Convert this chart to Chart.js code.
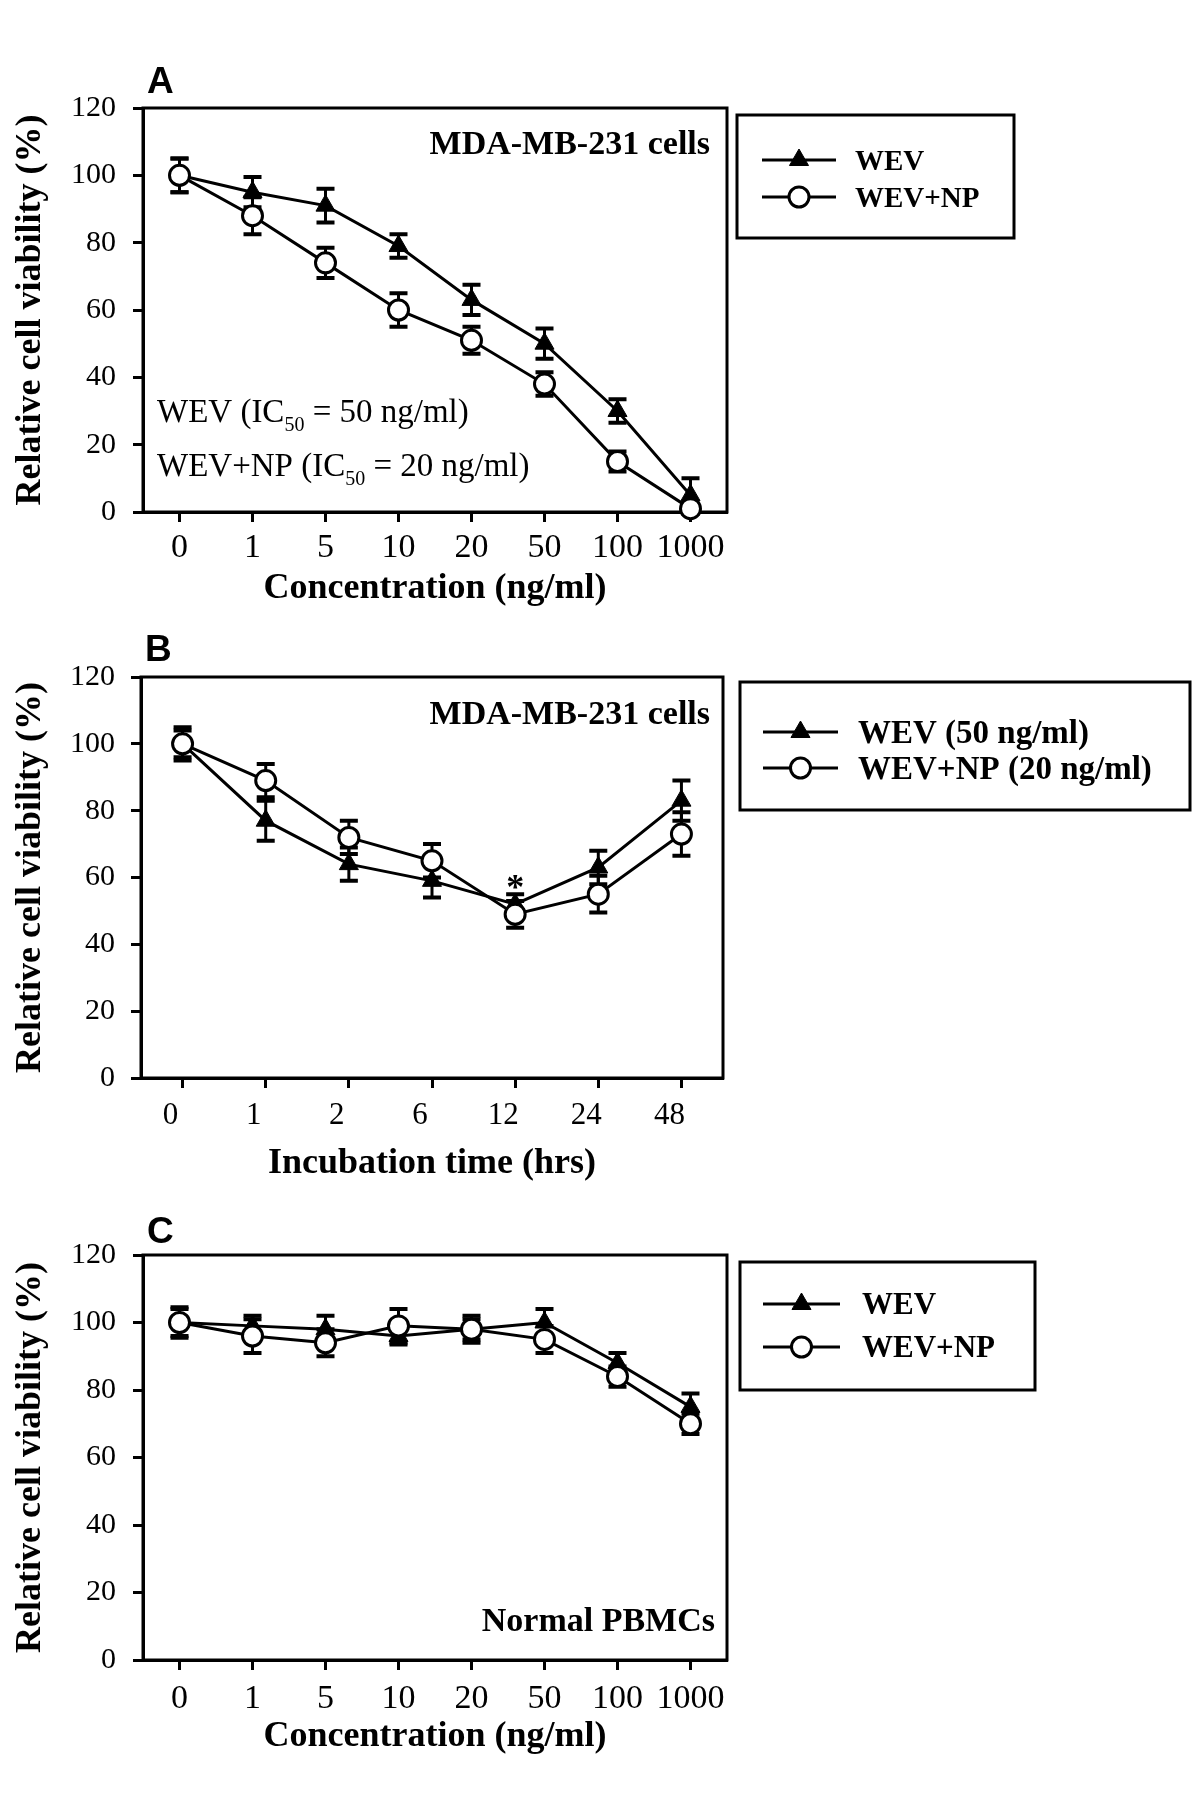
<!DOCTYPE html>
<html>
<head>
<meta charset="utf-8">
<script src="https://cdn.jsdelivr.net/npm/chart.js@4.4.1/dist/chart.umd.min.js"></script>
<style>
  body { margin: 0; background: #fff; }
  #wrap { position: relative; width: 1200px; height: 1812px; }
  canvas { position: absolute; left: 0; }
</style>
</head>
<body>
<div id="wrap">
  <canvas id="chartA" width="1200" height="620" style="top:0"></canvas>
  <canvas id="chartB" width="1200" height="580" style="top:620px"></canvas>
  <canvas id="chartC" width="1200" height="612" style="top:1200px"></canvas>
</div>
<script>
// x categories
const concLabels = ['0', '1', '5', '10', '20', '50', '100', '1000'];
const timeLabels = ['0', '1', '2', '6', '12', '24', '48'];

// A: MDA-MB-231, concentration
const wevA = [100, 95, 91, 79, 63, 50, 30, 5];
const wevAErr = [5, 4.5, 5, 3.5, 4.5, 4.5, 3.5, 5];
const npA = [100, 88, 74, 60, 51, 38, 15, 1];
const npAErr = [5, 5.5, 4.5, 5, 4, 3.5, 3, 1.5];

// B: MDA-MB-231, incubation time
const wevB = [100, 77, 64, 59, 52, 63, 83];
const wevBErr = [5, 6, 5, 5, 3, 5, 6];
const npB = [100, 89, 72, 65, 49, 55, 73];
const npBErr = [4, 5, 5, 5, 4, 5.5, 6.5];
const sigB = ['', '', '', '', '*', '', ''];

// C: normal PBMCs, concentration
const wevC = [100, 99, 98, 96, 98, 100, 88, 75];
const wevCErr = [4, 3, 4, 2.5, 3, 4, 3, 4];
const npC = [100, 96, 94, 99, 98, 95, 84, 70];
const npCErr = [4.5, 5, 4, 5, 4, 4, 3, 3];

Chart.defaults.font.family = '"Liberation Serif", "Times New Roman", serif';
Chart.defaults.color = '#000';
Chart.defaults.plugins.legend.display = false;
Chart.defaults.plugins.tooltip.enabled = false;

const SERIF = '"Liberation Serif", "Times New Roman", serif';

function wevSet(label, data, errors) {
  return {
    label, data, errors, order: 1,
    borderColor: '#000', backgroundColor: '#000', borderWidth: 3, tension: 0,
    pointStyle: 'triangle', pointRadius: 11, pointBorderWidth: 1,
    pointBackgroundColor: '#000', pointBorderColor: '#000', clip: false
  };
}

function npSet(label, data, errors) {
  return {
    label, data, errors, order: 0,
    borderColor: '#000', backgroundColor: '#fff', borderWidth: 3, tension: 0,
    pointStyle: 'circle', pointRadius: 10, pointBorderWidth: 3,
    pointBackgroundColor: '#fff', pointBorderColor: '#000', clip: false
  };
}

// frame + error bars under the lines
const frameAndErrors = {
  id: 'frameAndErrors',
  beforeDatasetsDraw(chart) {
    const { ctx, chartArea: a, scales: { x, y } } = chart;
    ctx.save();
    ctx.strokeStyle = '#000';
    ctx.lineWidth = 3;
    ctx.strokeRect(a.left, a.top, a.right - a.left, a.bottom - a.top);
    chart.data.datasets.forEach(ds => {
      ds.data.forEach((v, i) => {
        const e = ds.errors[i];
        const px = x.getPixelForValue(i);
        const top = y.getPixelForValue(v + e);
        const bot = y.getPixelForValue(v - e);
        ctx.lineWidth = 3;
        ctx.beginPath();
        ctx.moveTo(px, top);
        ctx.lineTo(px, bot);
        ctx.stroke();
        ctx.lineWidth = 4;
        ctx.beginPath();
        ctx.moveTo(px - 9, top); ctx.lineTo(px + 9, top);
        ctx.moveTo(px - 9, bot); ctx.lineTo(px + 9, bot);
        ctx.stroke();
      });
    });
    ctx.restore();
  }
};

function drawLegend(chart, lg) {
  const ctx = chart.ctx;
  ctx.save();
  ctx.strokeStyle = '#000';
  ctx.lineWidth = 3;
  ctx.strokeRect(lg.x, lg.y, lg.w, lg.h);
  ctx.font = `bold ${lg.font}px ${SERIF}`;
  ctx.textAlign = 'left';
  ctx.textBaseline = 'alphabetic';
  [0, 1].forEach(i => {
    const ds = chart.data.datasets[i];
    const ry = lg.rows[i];
    ctx.strokeStyle = '#000';
    ctx.lineWidth = 3;
    ctx.beginPath();
    ctx.moveTo(lg.lineX0, ry);
    ctx.lineTo(lg.lineX1, ry);
    ctx.stroke();
    ctx.fillStyle = ds.pointBackgroundColor;
    ctx.lineWidth = ds.pointBorderWidth;
    Chart.helpers.drawPoint(ctx, {
      pointStyle: ds.pointStyle, radius: ds.pointRadius, rotation: 0, borderWidth: ds.pointBorderWidth
    }, (lg.lineX0 + lg.lineX1) / 2, ry);
    ctx.fillStyle = '#000';
    ctx.fillText(ds.label, lg.textX, ry + lg.font * 0.33);
  });
  ctx.restore();
}

function drawSubText(ctx, parts, x, y, size) {
  // parts: [text, isSub]
  parts.forEach(([t, sub]) => {
    ctx.font = `${sub ? Math.round(size * 0.6) : size}px ${SERIF}`;
    ctx.fillText(t, x, sub ? y + size * 0.28 : y);
    x += ctx.measureText(t).width;
  });
}

function makePanel(id, p) {
  const deco = {
    id: 'deco' + id,
    afterDraw(chart) {
      const { ctx, chartArea: a, scales: { x, y } } = chart;
      ctx.save();
      ctx.fillStyle = '#000';
      // panel letter
      ctx.font = 'bold 37px "Liberation Sans", Arial, sans-serif';
      ctx.textAlign = 'left';
      ctx.fillText(p.letter, a.left + 4, a.top + p.letterDy);
      // cell type note
      ctx.font = `bold 34px ${SERIF}`;
      ctx.textAlign = 'right';
      ctx.fillText(p.note, a.right - p.noteDx, p.noteTop ? a.top + p.noteDy : a.bottom - p.noteDy);
      ctx.textAlign = 'left';
      if (p.ic50) {
        drawSubText(ctx, [['WEV (IC', false], ['50', true], [' = 50 ng/ml)', false]], a.left + 14, a.bottom - 90, 33);
        drawSubText(ctx, [['WEV+NP (IC', false], ['50', true], [' = 20 ng/ml)', false]], a.left + 14, a.bottom - 36, 33);
      }
      if (p.sig) {
        ctx.font = `bold 36px ${SERIF}`;
        ctx.textAlign = 'center';
        p.sig.forEach((s, i) => {
          if (!s) return;
          const hi = Math.max(...chart.data.datasets.map(ds => ds.data[i] + ds.errors[i]));
          ctx.fillText(s, x.getPixelForValue(i), y.getPixelForValue(hi) + 5);
        });
      }
      drawLegend(chart, p.legend);
      ctx.restore();
    }
  };

  const grid = {
    display: true, drawOnChartArea: false, drawTicks: true,
    tickLength: 10, tickWidth: 3, tickColor: '#000', offset: false
  };
  const border = { display: true, color: '#000', width: 3 };

  return new Chart(document.getElementById(id), {
    type: 'line',
    data: { labels: p.labels, datasets: p.datasets },
    options: {
      responsive: false,
      animation: false,
      devicePixelRatio: 1,
      layout: { padding: { left: 0, top: p.top, right: p.right, bottom: p.bottom } },
      scales: {
        x: {
          type: 'category', offset: true, grid, border,
          ticks: { color: '#000', font: { size: p.xFont }, padding: p.xPad, maxRotation: 0, autoSkip: false, labelOffset: p.labelOffset || 0 },
          title: { display: true, text: p.xTitle, color: '#000', font: { size: 36, weight: 'bold' }, padding: 0 },
          afterFit(scale) { scale.height = p.xHeight; }
        },
        y: {
          min: 0, max: 120, grid, border,
          ticks: { stepSize: 20, color: '#000', font: { size: 30 }, padding: p.yPad },
          title: { display: true, text: 'Relative cell viability (%)', color: '#000', font: { size: 36, weight: 'bold' }, padding: { top: 9, bottom: 0 } },
          afterFit(scale) { scale.width = p.yWidth; }
        }
      }
    },
    plugins: [frameAndErrors, deco]
  });
}

makePanel('chartA', {
  labels: concLabels,
  datasets: [wevSet('WEV', wevA, wevAErr), npSet('WEV+NP', npA, npAErr)],
  top: 108, right: 473, bottom: 10, yWidth: 143, xHeight: 98, xFont: 34, xPad: 6, yPad: 17,
  xTitle: 'Concentration (ng/ml)',
  letter: 'A', letterDy: -15,
  note: 'MDA-MB-231 cells', noteTop: true, noteDx: 17, noteDy: 46,
  ic50: true,
  legend: { x: 737, y: 115, w: 277, h: 123, rows: [160, 197], lineX0: 762, lineX1: 836, textX: 855, font: 29 }
});

makePanel('chartB', {
  labels: timeLabels,
  datasets: [wevSet('WEV (50 ng/ml)', wevB, wevBErr), npSet('WEV+NP (20 ng/ml)', npB, npBErr)],
  top: 57, right: 477, bottom: 15, yWidth: 141, xHeight: 107, xFont: 31, xPad: 9, yPad: 16, labelOffset: -12,
  xTitle: 'Incubation time (hrs)',
  letter: 'B', letterDy: -16,
  note: 'MDA-MB-231 cells', noteTop: true, noteDx: 13, noteDy: 47,
  sig: sigB,
  legend: { x: 740, y: 62, w: 450, h: 128, rows: [112, 148], lineX0: 763, lineX1: 838, textX: 858, font: 33 }
});

makePanel('chartC', {
  labels: concLabels,
  datasets: [wevSet('WEV', wevC, wevCErr), npSet('WEV+NP', npC, npCErr)],
  top: 55, right: 473, bottom: 54, yWidth: 143, xHeight: 98, xFont: 34, xPad: 9, yPad: 17,
  xTitle: 'Concentration (ng/ml)',
  letter: 'C', letterDy: -12,
  note: 'Normal PBMCs', noteTop: false, noteDx: 12, noteDy: 29,
  legend: { x: 740, y: 62, w: 295, h: 128, rows: [104, 147], lineX0: 763, lineX1: 840, textX: 862, font: 31 }
});
</script>
</body>
</html>
